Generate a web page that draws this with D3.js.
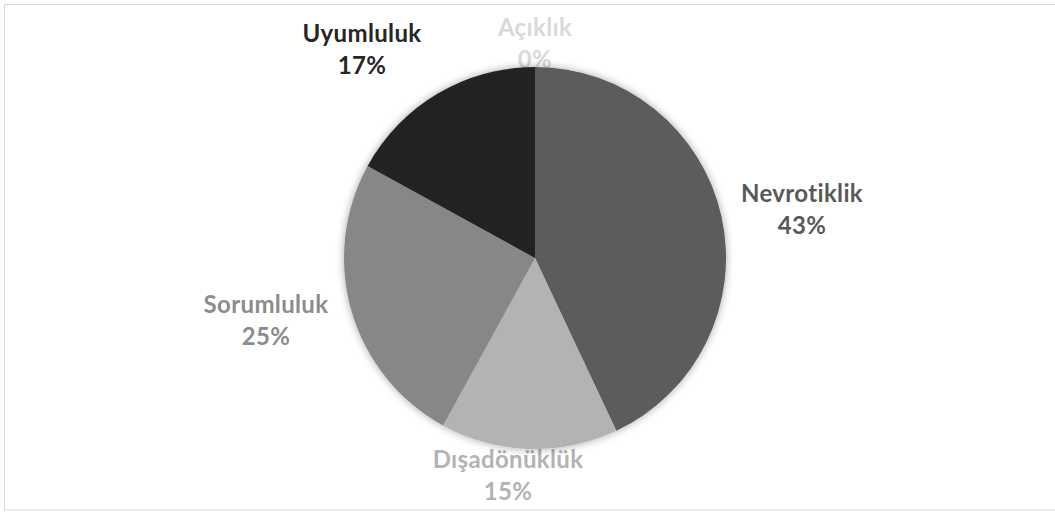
<!DOCTYPE html>
<html>
<head>
<meta charset="utf-8">
<script src="https://cdn.jsdelivr.net/npm/d3@7"></script>
<style>
  html, body { margin: 0; padding: 0; background: #fff; }
  svg { display: block; }
  text { font-variant-ligatures: none; font-feature-settings: "liga" 0, "clig" 0; }
</style>
</head>
<body>
<svg id="chart" width="1055" height="512"></svg>
<script>
// ---- data ----
const categories = ["Açıklık", "Nevrotiklik", "Dışadönüklük", "Sorumluluk", "Uyumluluk"];
const values = [0, 43, 15, 25, 17];
const percentLabels = ["0%", "43%", "15%", "25%", "17%"];
const sliceColors = ["#d9d9d9", "#5b5b5b", "#b3b3b3", "#878787", "#222222"];
const labelColors = ["#d9d9d9", "#595959", "#b3b3b3", "#8c8c8c", "#262626"];

// ---- layout ----
const W = 1055, H = 512;
const cx = 535, cy = 258, R = 191;
// label anchors (centre x, first-line baseline) relative to pie centre
const labelAnchors = [[0, -222], [267, -56], [-27, 210], [-269, 55], [-173, -216]];
const lineGap = 32;

const svg = d3.select("#chart");

// frame
svg.append("rect")
  .attr("x", 4.5).attr("y", 4.5)
  .attr("width", W + 10).attr("height", 505.5)
  .attr("fill", "#fff")
  .attr("stroke", "#d9d9d9").attr("stroke-width", 1);

const defs = svg.append("defs");
const f = defs.append("filter").attr("id", "shadow")
  .attr("x", "-20%").attr("y", "-20%").attr("width", "140%").attr("height", "140%");
f.append("feGaussianBlur").attr("in", "SourceAlpha").attr("stdDeviation", 4).attr("result", "b");
f.append("feOffset").attr("in", "b").attr("dx", 0).attr("dy", 0).attr("result", "o");
f.append("feComponentTransfer").attr("in", "o").attr("result", "s")
  .append("feFuncA").attr("type", "linear").attr("slope", 0.35);
const m = f.append("feMerge");
m.append("feMergeNode").attr("in", "s");
m.append("feMergeNode").attr("in", "SourceGraphic");

const data = categories.map((c, i) => ({ name: c, value: values[i], pct: percentLabels[i], i }));

// labels (drawn first, pie overlaps the 0% label as in the original)
const labels = svg.append("g")
  .attr("font-family", "Lato, 'Open Sans', sans-serif")
  .attr("font-weight", "bold")
  .attr("font-size", 24)
  .attr("letter-spacing", 0.35)
  .attr("text-anchor", "middle");

data.forEach(d => {
  const [dx, dy] = labelAnchors[d.i];
  const t = labels.append("text")
    .attr("fill", labelColors[d.i]);
  t.append("tspan").attr("x", cx + dx).attr("y", cy + dy).text(d.name);
  t.append("tspan").attr("x", cx + dx).attr("y", cy + dy + lineGap).text(d.pct);
});

// pie
const pie = d3.pie().sort(null).value(d => d.value);
const arc = d3.arc().innerRadius(0).outerRadius(R);

const g = svg.append("g")
  .attr("transform", `translate(${cx},${cy})`)
  .attr("filter", "url(#shadow)");

g.selectAll("path")
  .data(pie(data))
  .join("path")
  .attr("d", arc)
  .attr("fill", d => sliceColors[d.data.i]);
</script>
</body>
</html>
